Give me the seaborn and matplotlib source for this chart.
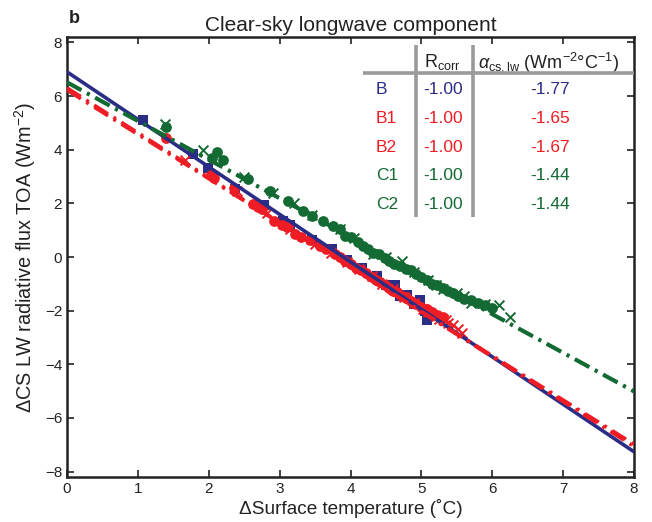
import numpy as np
import pandas as pd
import matplotlib
matplotlib.use("Agg")
import matplotlib.pyplot as plt
import seaborn as sns

# ---------------- data ----------------
B_x = [1.07, 1.78, 1.99, 2.37, 2.78, 3.05, 3.15, 3.45, 3.74, 3.95, 4.16, 4.37, 4.50, 4.63, 4.70, 4.80, 4.90, 4.98, 5.05, 5.08]
B_y = [5.10, 3.85, 3.30, 2.55, 1.95, 1.35, 1.20, 0.65, 0.30, -0.10, -0.40, -0.70, -1.05, -1.05, -1.45, -1.40, -1.75, -1.60, -2.00, -2.35]

B1_x = [1.40, 2.03, 2.07, 2.35, 2.62, 2.70, 2.75, 2.92, 3.04, 3.10, 3.22, 3.30, 3.43, 3.57, 3.65, 3.78, 3.85, 3.92, 4.00,
        4.08, 4.15, 4.22, 4.30, 4.36, 4.42, 4.48, 4.55, 4.60, 4.66, 4.72, 4.78, 4.85, 4.92, 5.00, 5.08, 5.15, 5.22, 5.30]
B1_y = [4.42, 3.05, 2.95, 2.58, 1.97, 1.88, 1.80, 1.33, 1.20, 1.10, 0.85, 0.75, 0.65, 0.40, 0.30, 0.10, 0.00, -0.15, -0.25,
        -0.40, -0.50, -0.60, -0.75, -0.85, -0.95, -1.05, -1.15, -1.25, -1.30, -1.45, -1.50, -1.65, -1.75, -1.85, -1.95, -2.05, -2.15, -2.25]

B2_x = [1.66, 2.40, 2.82, 3.15, 3.50, 3.72, 3.95, 4.12, 4.30, 4.45, 4.60, 4.75, 4.90, 5.02, 5.10, 5.20, 5.25, 5.30, 5.35, 5.38, 5.45, 5.52, 5.58]
B2_y = [3.62, 2.45, 1.65, 1.05, 0.50, 0.15, -0.20, -0.45, -0.70, -1.00, -1.20, -1.50, -1.70, -1.95, -2.05, -2.20, -2.30, -2.30, -2.35, -2.45, -2.55, -2.70, -2.85]

C1_x = [1.40, 2.05, 2.12, 2.20, 2.55, 2.86, 3.12, 3.33, 3.45, 3.61, 3.75, 3.85, 3.92, 4.00, 4.10, 4.17, 4.25, 4.32, 4.40, 4.48,
        4.55, 4.62, 4.70, 4.78, 4.85, 4.92, 5.00, 5.08, 5.15, 5.22, 5.30, 5.38, 5.45, 5.52, 5.60, 5.70, 5.80, 5.90, 6.00]
C1_y = [4.85, 3.70, 3.90, 3.60, 2.90, 2.45, 2.08, 1.70, 1.52, 1.33, 1.15, 1.05, 0.80, 0.75, 0.55, 0.42, 0.30, 0.15, 0.10, -0.05,
        -0.15, -0.25, -0.35, -0.45, -0.50, -0.65, -0.75, -0.85, -1.00, -1.05, -1.15, -1.25, -1.35, -1.45, -1.55, -1.60, -1.70, -1.80, -1.90]

C2_x = [1.38, 1.92, 2.50, 2.90, 3.20, 3.45, 3.85, 4.05, 4.32, 4.50, 4.72, 4.90, 5.10, 5.20, 5.30, 5.50, 5.60, 5.70, 5.90, 6.10, 6.25]
C2_y = [4.95, 4.00, 3.00, 2.40, 2.00, 1.58, 1.04, 0.70, 0.11, 0.00, -0.15, -0.55, -0.85, -1.05, -1.20, -1.35, -1.45, -1.70, -1.75, -1.80, -2.22]

series = ["B", "B1", "B2", "C1", "C2"]
fit_intercept = [6.90, 6.22, 6.30, 6.52, 6.50]
fit_slope = [-1.77, -1.65, -1.67, -1.44, -1.44]
r_corr = ["-1.00", "-1.00", "-1.00", "-1.00", "-1.00"]
alpha_cs = ["-1.77", "-1.65", "-1.67", "-1.44", "-1.44"]

x_ticks = [0, 1, 2, 3, 4, 5, 6, 7, 8]
y_ticks = [-8, -6, -4, -2, 0, 2, 4, 6, 8]

# ---------------- style ----------------
sns.set_style("ticks")
plt.rcParams["font.family"] = ["Liberation Sans", "DejaVu Sans"]
plt.rcParams["mathtext.fontset"] = "custom"
plt.rcParams["mathtext.rm"] = "Liberation Sans"
plt.rcParams["mathtext.it"] = "Liberation Sans:italic"

BLUE = "#2a2d86"
RED = "#ee1d25"
GREEN = "#146a33"
colors = [BLUE, RED, RED, GREEN, GREEN]
TXT = "#222222"

fig = plt.figure(figsize=(6.52, 5.22), dpi=100)
ax = fig.add_axes([0.1028, 0.0862, 0.8696, 0.8429])

pts = pd.concat([
    pd.DataFrame({"x": B_x, "y": B_y, "s": "B"}),
    pd.DataFrame({"x": B1_x, "y": B1_y, "s": "B1"}),
    pd.DataFrame({"x": B2_x, "y": B2_y, "s": "B2"}),
    pd.DataFrame({"x": C1_x, "y": C1_y, "s": "C1"}),
    pd.DataFrame({"x": C2_x, "y": C2_y, "s": "C2"}),
], ignore_index=True)

xs = np.array([0.0, 8.0])
dashdot = (0, (4.5, 1.8, 0.8, 1.8))
styles = {"B": "-", "B1": dashdot, "B2": dashdot, "C1": dashdot, "C2": dashdot}

# scatter points
marker_map = {"B": "s", "B1": "o", "B2": "x", "C1": "o", "C2": "x"}
zmap = {"B": 2, "B1": 3, "B2": 3, "C1": 3, "C2": 3}
for name, col in zip(series, colors):
    d = pts[pts["s"] == name]
    mk = marker_map[name]
    if mk == "x":
        sns.scatterplot(data=d, x="x", y="y", ax=ax, marker="x", s=50, color=col,
                        linewidth=1.4, legend=False, zorder=zmap[name])
    else:
        sns.scatterplot(data=d, x="x", y="y", ax=ax, marker=mk,
                        s=60 if mk == "o" else 48, color=col,
                        edgecolor=col, linewidth=0, legend=False, zorder=zmap[name])

for name, b0, m, col in zip(series, fit_intercept, fit_slope, colors):
    line = pd.DataFrame({"x": xs, "y": b0 + m * xs})
    sns.lineplot(data=line, x="x", y="y", ax=ax, color=col, linewidth=2.6,
                 linestyle=styles[name], legend=False, zorder=4)

ax.set_xlim(0, 8)
ax.set_ylim(-8.2, 8.2)
ax.set_xticks(x_ticks)
ax.set_yticks(y_ticks)
ax.set_xticklabels([str(t) for t in x_ticks])
ax.set_yticklabels([str(t).replace("-", "\u2212") for t in y_ticks])
ax.tick_params(direction="in", length=5, width=1.2, labelsize=11, top=True, right=True,
               colors=TXT, labelcolor=TXT)
for sp in ax.spines.values():
    sp.set_linewidth(1.8)
    sp.set_color(TXT)
    sp.set_visible(True)

ax.set_xlabel("\u0394Surface temperature (\u02daC)", fontsize=13.7, color=TXT, labelpad=2)
ax.set_ylabel("\u0394CS LW radiative flux TOA (Wm$^{-2}$)", fontsize=14.3, color=TXT, labelpad=5)
ax.set_title("Clear-sky longwave component", fontsize=15, color=TXT, pad=4)
fig.text(0.105, 0.955, "b", fontsize=13, fontweight="bold", color=TXT)

# table
GRAY = "#9a9a9a"
ax.plot([4.92, 4.92], [1.48, 7.9], color=GRAY, lw=2.6, solid_capstyle="butt", zorder=5)
ax.plot([5.73, 5.73], [1.48, 7.9], color=GRAY, lw=2.6, solid_capstyle="butt", zorder=5)
ax.plot([4.17, 8.0], [6.85, 6.85], color=GRAY, lw=2.6, solid_capstyle="butt", zorder=5)
ax.text(5.04, 7.28, "R$_{\\mathregular{corr}}$", fontsize=13, color=TXT, va="center", ha="left")
ax.text(5.80, 7.28, "$\\alpha_{\\mathregular{cs,lw}}$ (Wm$^{\\mathregular{-2}}$\u00b0C$^{\\mathregular{-1}}$)",
        fontsize=13, color=TXT, va="center", ha="left")
row_y = [6.26, 5.17, 4.09, 3.02, 1.95]
for name, rc, al, col, yy in zip(series, r_corr, alpha_cs, colors, row_y):
    ax.text(4.36, yy, name, fontsize=12.5, color=col, va="center", ha="left")
    ax.text(5.02, yy, rc, fontsize=12.5, color=col, va="center", ha="left")
    ax.text(7.09, yy, al, fontsize=12.5, color=col, va="center", ha="right")

fig.savefig("out.png", dpi=100)
